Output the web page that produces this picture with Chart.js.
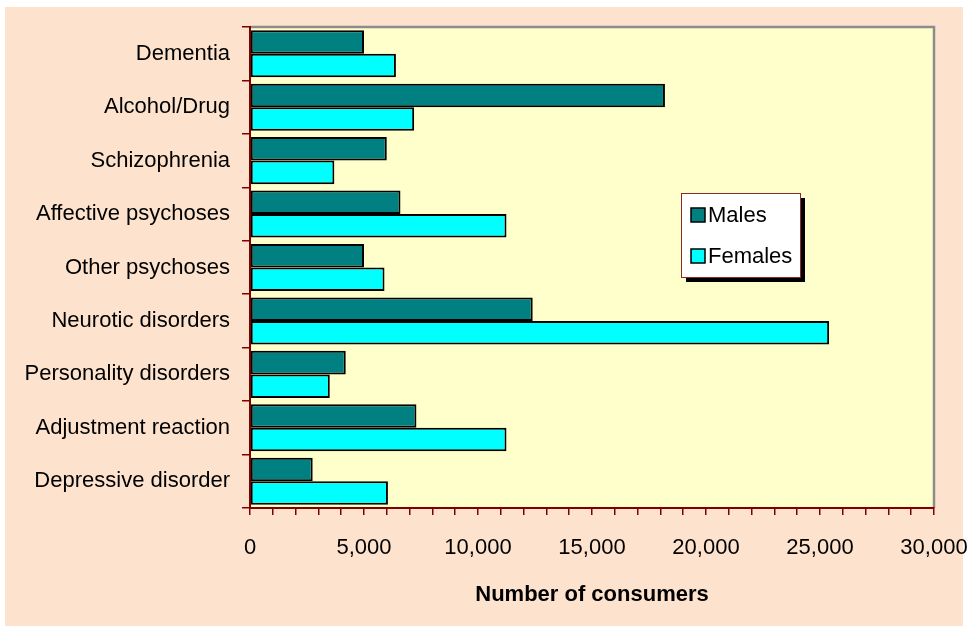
<!DOCTYPE html>
<html>
<head>
<meta charset="utf-8">
<script src="https://cdn.jsdelivr.net/npm/chart.js@4"></script>
<style>
  html, body { margin: 0; padding: 0; background: #ffffff; }
  #wrap { width: 969px; height: 632px; }
</style>
</head>
<body>
<div id="wrap"><canvas id="myChart" width="969" height="632"></canvas></div>
<script>
const categories = ['Dementia', 'Alcohol/Drug', 'Schizophrenia', 'Affective psychoses', 'Other psychoses',
  'Neurotic disorders', 'Personality disorders', 'Adjustment reaction', 'Depressive disorder'];
const males = [5000, 18200, 6000, 6600, 5000, 12400, 4200, 7300, 2750];
const females = [6400, 7200, 3700, 11250, 5900, 25400, 3500, 11250, 6050];
const xTicks = [0, 5000, 10000, 15000, 20000, 25000, 30000];

const FONT = "'Liberation Sans Narrow', 'Arial Narrow', 'Liberation Sans', Arial, sans-serif";

// backgrounds, plot frame and the floating legend
const decor = {
  id: 'decor',
  beforeDraw(chart) {
    const { ctx, chartArea: a } = chart;
    ctx.save();
    ctx.fillStyle = '#fde3cd';
    ctx.fillRect(5, 7, 958, 619);
    ctx.fillStyle = '#ffffcc';
    ctx.fillRect(a.left, a.top, a.right - a.left, a.bottom - a.top);
    ctx.strokeStyle = '#8c8c8c';
    ctx.lineWidth = 2.5;
    ctx.beginPath();
    ctx.moveTo(a.left, a.top);
    ctx.lineTo(a.right, a.top);
    ctx.lineTo(a.right, a.bottom);
    ctx.stroke();
    ctx.restore();
  },
  afterDraw(chart) {
    const { ctx } = chart;
    const x = 681, y = 193, w = 119, h = 84;
    ctx.save();
    ctx.fillStyle = '#000';
    ctx.fillRect(x + 5, y + 5, w, h);
    ctx.fillStyle = '#fff';
    ctx.fillRect(x, y, w, h);
    ctx.strokeStyle = '#8b2a2a';
    ctx.lineWidth = 1;
    ctx.strokeRect(x + 0.5, y + 0.5, w, h);
    ctx.font = '22px ' + FONT;
    ctx.textBaseline = 'middle';
    chart.data.datasets.forEach((ds, i) => {
      const cy = y + 22 + i * 41;
      ctx.fillStyle = ds.backgroundColor;
      ctx.fillRect(x + 10, cy - 7, 14, 14);
      ctx.strokeStyle = '#000';
      ctx.lineWidth = 1.5;
      ctx.strokeRect(x + 10, cy - 7, 14, 14);
      ctx.fillStyle = '#000';
      ctx.fillText(ds.label, x + 27, cy + 1);
    });
    ctx.restore();
  },
};

new Chart(document.getElementById('myChart'), {
  type: 'bar',
  data: {
    labels: categories,
    datasets: [
      { label: 'Males', data: males, backgroundColor: '#008080', borderColor: '#000', borderWidth: 2,
        borderSkipped: false, categoryPercentage: 0.88, barPercentage: 1.0 },
      { label: 'Females', data: females, backgroundColor: '#00ffff', borderColor: '#000', borderWidth: 2,
        borderSkipped: false, categoryPercentage: 0.88, barPercentage: 1.0 },
    ],
  },
  options: {
    indexAxis: 'y',
    responsive: false,
    animation: false,
    layout: { padding: { left: 0, right: 35, top: 27, bottom: 0 } },
    plugins: { legend: { display: false }, tooltip: { enabled: false } },
    scales: {
      x: {
        min: 0,
        max: 30000,
        afterBuildTicks(scale) {
          const t = [];
          for (let v = 0; v <= 30000; v += 1000) t.push({ value: v });
          scale.ticks = t;
        },
        afterFit(scale) {
          scale.height = 124;
          scale.paddingLeft = 0;
          scale.paddingRight = 0;
        },
        ticks: {
          autoSkip: false,
          maxRotation: 0,
          padding: 20,
          color: '#000',
          font: { family: FONT, size: 22 },
          callback: (v) => (xTicks.includes(v) ? v.toLocaleString('en-US') : ''),
        },
        grid: { drawOnChartArea: false, drawTicks: true, tickLength: 7, color: '#800000', lineWidth: 1.5 },
        border: { color: '#800000', width: 2 },
        title: {
          display: true,
          text: 'Number of consumers',
          color: '#000',
          font: { family: FONT, size: 22, weight: 'bold' },
          padding: { top: 4, bottom: 24 },
        },
      },
      y: {
        afterFit(scale) { scale.width = 250; },
        ticks: { color: '#000', padding: 12, font: { family: FONT, size: 22 } },
        grid: { drawOnChartArea: false, drawTicks: true, tickLength: 8, color: '#800000', lineWidth: 1.5, offset: true },
        border: { color: '#800000', width: 2 },
      },
    },
  },
  plugins: [decor],
});
</script>
</body>
</html>
